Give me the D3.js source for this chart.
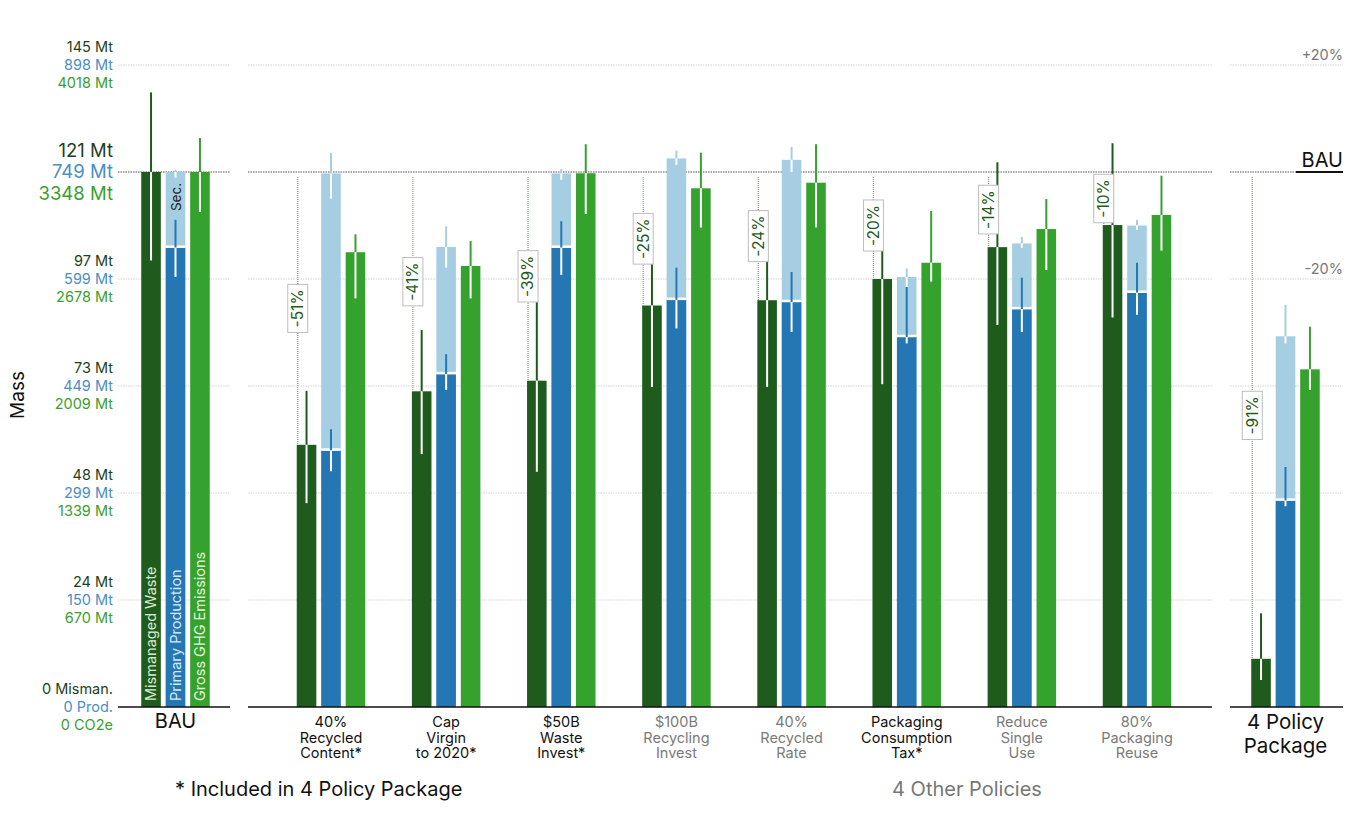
<!DOCTYPE html>
<html lang="en">
<head>
<meta charset="UTF-8">
<title>Policy scenarios</title>
<script src="https://d3js.org/d3.v7.min.js"></script>
<style>
  body { margin: 0; background: #fff; }
  text { font-family: Inter, "Open Sans", sans-serif; }
</style>
</head>
<body>
<div id="chart"></div>
<script>
// ---- data ----
var groupKeys = ["BAU", "p1", "p2", "p3", "p4", "p5", "p6", "p7", "p8", "pkg"];
var policyKeys = ["p1", "p2", "p3", "p4", "p5", "p6", "p7", "p8"];
var policyLabels = [
  ["40%", "Recycled", "Content*"],
  ["Cap", "Virgin", "to 2020*"],
  ["$50B", "Waste", "Invest*"],
  ["$100B", "Recycling", "Invest"],
  ["40%", "Recycled", "Rate"],
  ["Packaging", "Consumption", "Tax*"],
  ["Reduce", "Single", "Use"],
  ["80%", "Packaging", "Reuse"]
];
var inPackage = [true, true, true, false, false, true, false, false];

var mismanaged = [121, 59.3, 71.4, 73.8, 90.8, 92, 96.8, 104, 109, 10.9];
var misLow     = [101, 46.1, 57.2, 53.2, 72.4, 72.4, 73, 86.4, 88.1, 6.1];
var misHigh    = [139, 71.5, 85.3, 93.3, 111.5, 104, 110.8, 123.2, 127.5, 21.2];

var primary  = [643, 359, 466, 643, 570, 567, 518, 557, 580, 289];
var primLow  = [602, 330, 444, 605, 530, 525, 509, 525, 549, 281];
var primHigh = [682, 389, 494, 680, 615, 609, 588, 601, 622, 336];

// primary + secondary production
var primSec     = [749, 747, 644, 747, 768, 766, 602, 649, 674, 519];
var primSecLow  = [741, 712, 615, 738, 759, 749, 588, 643, 668, 509];
var primSecHigh = [752, 776, 673, 753, 779, 784, 614, 658, 682, 563];

var ghg     = [3348, 2846, 2760, 3340, 3246, 3281, 2780, 2991, 3079, 2113];
var ghgLow  = [3098, 2557, 2557, 3085, 3000, 3001, 2662, 2735, 2856, 1984];
var ghgHigh = [3561, 2958, 2916, 3522, 3469, 3522, 3104, 3179, 3325, 2380];

var pctLabels = ["", "-51%", "-41%", "-39%", "-25%", "-24%", "-20%", "-14%", "-10%", "-91%"];

var tickFrac   = [0, 0.2, 0.4, 0.6, 0.8, 1, 1.2];
var misTicks   = ["0 Misman.", "24 Mt", "48 Mt", "73 Mt", "97 Mt", "121 Mt", "145 Mt"];
var primTicks  = ["0 Prod.", "150 Mt", "299 Mt", "449 Mt", "599 Mt", "749 Mt", "898 Mt"];
var ghgTicks   = ["0 CO2e", "670 Mt", "1339 Mt", "2009 Mt", "2678 Mt", "3348 Mt", "4018 Mt"];
var rightTicks = [[1.2, "+20%"], [1, "BAU"], [0.8, "-20%"]];

// ---- layout ----
var width = 1350, height = 816;
var baseY = 707, topY = 65;
var cDark = "#1f5b1c", cBlue = "#2477b3", cLight = "#a6cee3", cGreen = "#35a22d";
var panels = [[118, 230], [248, 1212], [1230, 1343]];

var svg = d3.select("#chart").append("svg")
  .attr("width", width).attr("height", height);

var yMis = d3.scaleLinear().domain([0, 121 * 1.2]).range([baseY, topY]);
var yPrim = d3.scaleLinear().domain([0, 749 * 1.2]).range([baseY, topY]);
var yGhg = d3.scaleLinear().domain([0, 3348 * 1.2]).range([baseY, topY]);
var yFrac = d3.scaleLinear().domain([0, 1.2]).range([baseY, topY]);

var xPolicy = d3.scalePoint().domain(policyKeys).range([331, 1137]);
function groupX(k) {
  if (k === "BAU") return 175.5;
  if (k === "pkg") return 1285.5;
  return xPolicy(k);
}
var xInner = d3.scaleBand().domain(["mis", "prim", "ghg"])
  .range([-34.25, 34.25]).paddingInner(0.2);
var bw = xInner.bandwidth();

// ---- gridlines ----
var grid = svg.append("g");
tickFrac.slice(1).forEach(function (f) {
  panels.forEach(function (p, i) {
    var x2 = p[1];
    if (f === 1 && i === 2) x2 = 1296;
    grid.append("line")
      .attr("x1", p[0]).attr("x2", x2)
      .attr("y1", yFrac(f)).attr("y2", yFrac(f))
      .attr("stroke", f === 1 ? "#8a8a8a" : "#d4d4d4")
      .attr("stroke-width", f === 1 ? 1.6 : 1.2)
      .attr("stroke-dasharray", "1.5,1");
  });
});

// left tick labels
var ticks = svg.append("g").attr("text-anchor", "end");
tickFrac.forEach(function (f, i) {
  var y = yFrac(f), big = f === 1;
  var fs = big ? 18.5 : 14.5, dy = big ? 21.5 : 18;
  ticks.append("text").attr("x", 113).attr("y", y - dy).attr("dy", "0.35em")
    .attr("font-size", fs).attr("fill", "#1d3f1d").text(misTicks[i]);
  ticks.append("text").attr("x", 113).attr("y", y).attr("dy", "0.35em")
    .attr("font-size", fs).attr("fill", "#4a8ec4").text(primTicks[i]);
  ticks.append("text").attr("x", 113).attr("y", y + dy).attr("dy", "0.35em")
    .attr("font-size", fs).attr("fill", "#3a9e30").text(ghgTicks[i]);
});

svg.append("text").attr("transform", "translate(24,395) rotate(-90)")
  .attr("text-anchor", "middle").attr("font-size", 19).attr("fill", "#111").text("Mass");

// right labels
rightTicks.forEach(function (r) {
  var big = r[1] === "BAU";
  svg.append("text").attr("x", 1343).attr("y", yFrac(r[0]) - 5)
    .attr("text-anchor", "end").attr("font-size", big ? 20 : 14.5)
    .attr("fill", big ? "#111" : "#777").text(r[1]);
});
svg.append("line").attr("x1", 1296).attr("x2", 1343)
  .attr("y1", yFrac(1)).attr("y2", yFrac(1))
  .attr("stroke", "#111").attr("stroke-width", 2);

// ---- bars ----
function errLine(g, cx, y, v, lo, hi, color) {
  if (hi > v) {
    g.append("line").attr("x1", cx).attr("x2", cx)
      .attr("y1", y(hi)).attr("y2", y(v))
      .attr("stroke", color).attr("stroke-width", 2);
  }
  g.append("line").attr("x1", cx).attr("x2", cx)
    .attr("y1", y(Math.min(hi, v))).attr("y2", y(lo))
    .attr("stroke", "#fff").attr("stroke-width", 2);
}

var bars = svg.append("g");
groupKeys.forEach(function (k, i) {
  var gx = groupX(k);
  var g = bars.append("g");
  var xm = gx + xInner("mis"), xp = gx + xInner("prim"), xg = gx + xInner("ghg");

  // percent change guide
  if (pctLabels[i]) {
    var lx = xm + 1;
    g.append("line").attr("x1", lx).attr("x2", lx)
      .attr("y1", yFrac(1) + 5).attr("y2", yMis(mismanaged[i]))
      .attr("stroke", "#7f9a7f").attr("stroke-width", 1.2)
      .attr("stroke-dasharray", "1,1");
  }

  // mismanaged
  g.append("rect").attr("x", xm).attr("width", bw)
    .attr("y", yMis(mismanaged[i])).attr("height", baseY - yMis(mismanaged[i]))
    .attr("fill", cDark);
  errLine(g, xm + bw / 2, yMis, mismanaged[i], misLow[i], misHigh[i], cDark);

  // production (primary + secondary)
  g.append("rect").attr("x", xp).attr("width", bw)
    .attr("y", yPrim(primSec[i])).attr("height", baseY - yPrim(primSec[i]))
    .attr("fill", cLight);
  errLine(g, xp + bw / 2, yPrim, primSec[i], primSecLow[i], primSecHigh[i], cLight);
  g.append("rect").attr("x", xp).attr("width", bw)
    .attr("y", yPrim(primary[i])).attr("height", baseY - yPrim(primary[i]))
    .attr("fill", cBlue);
  g.append("line").attr("x1", xp).attr("x2", xp + bw)
    .attr("y1", yPrim(primary[i]) - 1).attr("y2", yPrim(primary[i]) - 1)
    .attr("stroke", "#fff").attr("stroke-width", 2.5);
  errLine(g, xp + bw / 2, yPrim, primary[i], primLow[i], primHigh[i], cBlue);

  // ghg
  g.append("rect").attr("x", xg).attr("width", bw)
    .attr("y", yGhg(ghg[i])).attr("height", baseY - yGhg(ghg[i]))
    .attr("fill", cGreen);
  errLine(g, xg + bw / 2, yGhg, ghg[i], ghgLow[i], ghgHigh[i], cGreen);

  // percent box
  if (pctLabels[i]) {
    var cy = (yFrac(1) + yMis(mismanaged[i])) / 2;
    var box = g.append("g").attr("transform", "translate(" + (xm + 1) + "," + cy + ")");
    var rct = box.append("rect").attr("fill", "#fff").attr("stroke", "#bdbdbd").attr("stroke-width", 1);
    var t = box.append("text").attr("transform", "rotate(-90)")
      .attr("text-anchor", "middle").attr("dy", "0.35em")
      .attr("font-size", 15.5).attr("fill", cDark).text(pctLabels[i]);
    var bb = t.node().getBBox();
    rct.attr("x", -10).attr("width", 20)
      .attr("y", -bb.width / 2 - 5).attr("height", bb.width + 10);
  }
});

// labels inside BAU bars
var bx = groupX("BAU");
[["mis", "Mismanaged Waste", "#d9ead3"], ["prim", "Primary Production", "#d6e8f5"], ["ghg", "Gross GHG Emissions", "#e3f2dc"]]
  .forEach(function (d) {
    var cx = bx + xInner(d[0]) + bw / 2;
    svg.append("text").attr("transform", "translate(" + (cx + 5) + ",701) rotate(-90)")
      .attr("font-size", 14.5).attr("fill", d[2]).text(d[1]);
  });
svg.append("text").attr("transform", "translate(" + (bx + 5) + ",197) rotate(-90)")
  .attr("text-anchor", "middle").attr("font-size", 13.5).attr("fill", "#222").text("Sec.");

// ---- baseline axes ----
panels.forEach(function (p) {
  svg.append("line").attr("x1", p[0]).attr("x2", p[1])
    .attr("y1", baseY).attr("y2", baseY)
    .attr("stroke", "#111").attr("stroke-width", 1.6);
});

// category labels
svg.append("text").attr("x", groupX("BAU")).attr("y", 728)
  .attr("text-anchor", "middle").attr("font-size", 20).attr("fill", "#111").text("BAU");
policyKeys.forEach(function (k, i) {
  var t = svg.append("text").attr("text-anchor", "middle").attr("font-size", 14.5)
    .attr("fill", inPackage[i] ? "#111" : "#7a7a7a");
  policyLabels[i].forEach(function (line, j) {
    t.append("tspan").attr("x", xPolicy(k)).attr("y", 727 + j * 15.5).text(line);
  });
});
var pk = svg.append("text").attr("text-anchor", "middle").attr("font-size", 20.5).attr("fill", "#111");
pk.append("tspan").attr("x", groupX("pkg")).attr("y", 729).text("4 Policy");
pk.append("tspan").attr("x", groupX("pkg")).attr("y", 753).text("Package");

svg.append("text").attr("x", 175).attr("y", 796)
  .attr("font-size", 20).attr("fill", "#111").text("* Included in 4 Policy Package");
svg.append("text").attr("x", 967).attr("y", 796).attr("text-anchor", "middle")
  .attr("font-size", 20).attr("fill", "#777").text("4 Other Policies");
</script>
</body>
</html>
